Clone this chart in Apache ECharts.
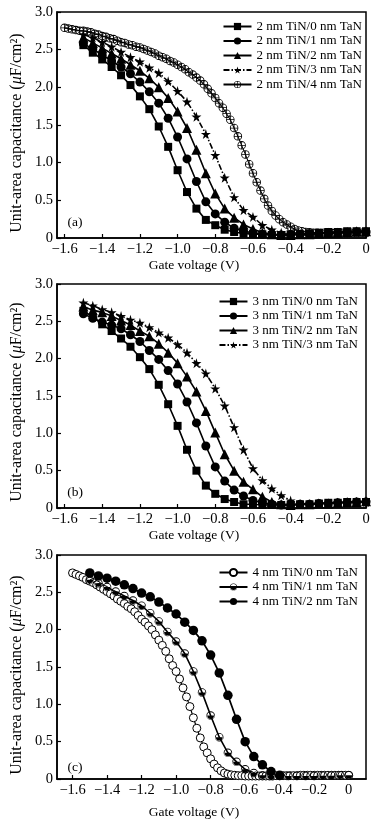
<!DOCTYPE html>
<html>
<head>
<meta charset="utf-8">
<script src="https://cdn.jsdelivr.net/npm/echarts@6/dist/echarts.min.js"></script>
<style>
html,body{margin:0;padding:0;background:#fff;}
#chart{width:392px;height:826px;}
</style>
</head>
<body>
<div id="chart"></div>
<script>
// ---------- DATA ----------
const voltsA = [-1.5,-1.45,-1.4,-1.35,-1.3,-1.25,-1.2,-1.15,-1.1,-1.05,-1.0,-0.95,-0.9,-0.85,-0.8,-0.75,-0.7,-0.65,-0.6,-0.55,-0.5,-0.45,-0.4,-0.35,-0.3,-0.25,-0.2,-0.15,-0.1,-0.05,0];
const voltsFine = [-1.6,-1.58,-1.56,-1.54,-1.52,-1.5,-1.48,-1.46,-1.44,-1.42,-1.4,-1.38,-1.36,-1.34,-1.32,-1.3,-1.28,-1.26,-1.24,-1.22,-1.2,-1.18,-1.16,-1.14,-1.12,-1.1,-1.08,-1.06,-1.04,-1.02,-1.0,-0.98,-0.96,-0.94,-0.92,-0.9,-0.88,-0.86,-0.84,-0.82,-0.8,-0.78,-0.76,-0.74,-0.72,-0.7,-0.68,-0.66,-0.64,-0.62,-0.6,-0.58,-0.56,-0.54,-0.52,-0.5,-0.48,-0.46,-0.44,-0.42,-0.4,-0.38,-0.36,-0.34,-0.32,-0.3,-0.28,-0.26,-0.24,-0.22,-0.2,-0.18,-0.16,-0.14,-0.12,-0.1,-0.08,-0.06,-0.04,-0.02,0];
const voltsC2 = [-1.5,-1.45,-1.4,-1.35,-1.3,-1.25,-1.2,-1.15,-1.1,-1.05,-1.0,-0.95,-0.9,-0.85,-0.8,-0.75,-0.7,-0.65,-0.6,-0.55,-0.5,-0.45,-0.4];
const xTickValues = [-1.6,-1.4,-1.2,-1.0,-0.8,-0.6,-0.4,-0.2,0];

// Panel (a): 2 nm TiN
const namesA = ['2 nm TiN/0 nm TaN','2 nm TiN/1 nm TaN','2 nm TiN/2 nm TaN','2 nm TiN/3 nm TaN','2 nm TiN/4 nm TaN'];
const a0 = [2.56,2.46,2.37,2.27,2.16,2.03,1.88,1.71,1.48,1.21,0.90,0.61,0.39,0.24,0.17,0.11,0.08,0.06,0.05,0.05,0.04,0.04,0.05,0.05,0.06,0.07,0.08,0.08,0.09,0.09,0.09];
const a1 = [2.58,2.51,2.43,2.35,2.27,2.18,2.07,1.94,1.79,1.59,1.34,1.05,0.75,0.48,0.32,0.21,0.13,0.09,0.07,0.05,0.05,0.04,0.04,0.05,0.05,0.06,0.06,0.07,0.07,0.08,0.08];
const a2 = [2.66,2.59,2.52,2.45,2.38,2.30,2.22,2.12,2.00,1.86,1.68,1.46,1.17,0.86,0.59,0.39,0.27,0.18,0.12,0.07,0.05,0.04,0.04,0.05,0.05,0.06,0.07,0.07,0.08,0.09,0.09];
const a3 = [2.70,2.66,2.60,2.54,2.47,2.40,2.34,2.26,2.19,2.08,1.95,1.81,1.61,1.38,1.10,0.80,0.54,0.37,0.28,0.17,0.11,0.07,0.05,0.05,0.05,0.06,0.06,0.07,0.07,0.08,0.08];
const a4 = [2.79,2.78,2.77,2.76,2.75,2.75,2.74,2.73,2.71,2.70,2.68,2.67,2.65,2.64,2.62,2.60,2.59,2.57,2.56,2.54,2.53,2.51,2.49,2.47,2.45,2.42,2.40,2.38,2.35,2.33,2.30,2.27,2.24,2.20,2.17,2.13,2.09,2.04,1.98,1.92,1.86,1.79,1.73,1.65,1.57,1.46,1.35,1.23,1.11,0.98,0.86,0.74,0.63,0.52,0.43,0.36,0.30,0.25,0.21,0.18,0.15,0.12,0.10,0.09,0.08,0.075,0.07,0.07,0.065,0.07,0.07,0.065,0.07,0.07,0.07,0.065,0.07,0.07,0.07,0.07,0.07];

// Panel (b): 3 nm TiN
const namesB = ['3 nm TiN/0 nm TaN','3 nm TiN/1 nm TaN','3 nm TiN/2 nm TaN','3 nm TiN/3 nm TaN'];
const b0 = [2.64,2.56,2.46,2.37,2.27,2.16,2.02,1.86,1.65,1.39,1.10,0.78,0.50,0.30,0.19,0.12,0.08,0.05,0.05,0.04,0.04,0.04,0.04,0.05,0.05,0.06,0.07,0.07,0.08,0.08,0.08];
const b1 = [2.60,2.54,2.49,2.45,2.40,2.32,2.23,2.11,1.99,1.84,1.66,1.42,1.14,0.83,0.55,0.36,0.24,0.16,0.10,0.07,0.05,0.04,0.04,0.05,0.05,0.06,0.06,0.07,0.07,0.08,0.08];
const b2 = [2.70,2.65,2.62,2.57,2.51,2.45,2.37,2.30,2.20,2.08,1.94,1.76,1.56,1.30,1.01,0.72,0.50,0.35,0.25,0.15,0.08,0.05,0.04,0.05,0.05,0.06,0.06,0.07,0.08,0.08,0.09];
const b3 = [2.75,2.71,2.66,2.62,2.57,2.52,2.48,2.42,2.35,2.28,2.19,2.08,1.94,1.80,1.60,1.37,1.08,0.78,0.53,0.37,0.26,0.17,0.10,0.05,0.05,0.06,0.06,0.07,0.07,0.08,0.08];

// Panel (c): 4 nm TiN
const namesC = ['4 nm TiN/0 nm TaN','4 nm TiN/1 nm TaN','4 nm TiN/2 nm TaN'];
const c0 = [2.76,2.74,2.72,2.70,2.67,2.65,2.63,2.60,2.57,2.54,2.51,2.48,2.45,2.41,2.38,2.35,2.31,2.28,2.24,2.19,2.14,2.10,2.05,2.00,1.93,1.86,1.79,1.71,1.61,1.52,1.44,1.34,1.22,1.10,0.97,0.82,0.68,0.55,0.43,0.35,0.27,0.20,0.15,0.11,0.08,0.065,0.055,0.05,0.045,0.045,0.04,0.04,0.04,0.04,0.04,0.04,0.04,0.04,0.04,0.045,0.045,0.045,0.045,0.045,0.045,0.045,0.05,0.05,0.05,0.05,0.05,0.05,0.05,0.05,0.05,0.05,0.05,0.05,0.05,0.05,0.05];
const c1 = [2.67,2.62,2.57,2.51,2.45,2.39,2.32,2.22,2.11,1.97,1.84,1.68,1.44,1.16,0.85,0.56,0.35,0.23,0.13,0.08,0.05,0.04,0.04,0.04,0.04,0.04,0.04,0.045,0.045,0.05,0.05];
const c2 = [2.76,2.72,2.69,2.65,2.60,2.55,2.49,2.44,2.37,2.29,2.21,2.10,1.99,1.85,1.66,1.42,1.12,0.80,0.50,0.30,0.19,0.10,0.05];

// ---------- STYLE ----------
const FONT = '"Liberation Serif", "Times New Roman", serif';
const STAR = 'path://M50,0 L61,35 L98,35 L68,57 L79,91 L50,70 L21,91 L32,57 L2,35 L39,35 Z';
const CIRCLE_PLUS = 'path://M10,0 A10,10 0 1,1 10,20 A10,10 0 1,1 10,0 Z M10,2 A8,8 0 1,0 10,18 A8,8 0 1,0 10,2 Z M9.1,1 L10.9,1 L10.9,19 L9.1,19 Z M1,9.1 L19,9.1 L19,10.9 L1,10.9 Z';
const HALF_CIRCLE = 'path://M10,0 A10,10 0 1,1 10,20 A10,10 0 1,1 10,0 Z M10,2 A8,8 0 1,0 10,18 A8,8 0 1,0 10,2 Z M1,10 A9,9 0 0,0 19,10 Z';

function zip(xs, ys){ return xs.map((x,i)=>[x, ys[i]]); }

function mkSeries(name, idx, xs, ys, symbol, size, opts){
  opts = opts || {};
  return {
    type:'line', name:name, xAxisIndex:idx, yAxisIndex:idx,
    data: zip(xs, ys),
    symbol: symbol, symbolSize: size, showSymbol:true,
    lineStyle:{color:'#000', width: opts.lw || 1.6, type: opts.dash || 'solid'},
    itemStyle: opts.item || {color:'#000'},
    emphasis:{disabled:true},
    animation:false, z: opts.z || 2
  };
}

const grids = [
  {left:57, top:12, width:309, height:226},
  {left:57, top:284, width:309, height:224},
  {left:57, top:555, width:309, height:224}
].map(g => Object.assign({show:true, borderColor:'#000', borderWidth:1.5, containLabel:false, outerBoundsMode:'none'}, g));

const xRanges = [[-1.64,0],[-1.64,0],[-1.69,0.1]];

function xFmt(v){ if (Math.abs(v) < 1e-9) return '0'; return '\u2212' + Math.abs(v).toFixed(1); }
function yFmt(v){ if (Math.abs(v) < 1e-9) return '0'; return v.toFixed(1); }

const xAxes = xRanges.map((r,i)=>({
  type:'value', gridIndex:i, min:r[0], max:r[1],
  axisLine:{show:true, onZero:false, lineStyle:{color:'#000', width:1.5}},
  axisTick:{show:true, inside:true, length:4, customValues:xTickValues, lineStyle:{color:'#000', width:1.2}},
  axisLabel:{show:true, customValues:xTickValues, formatter:xFmt, color:'#000', fontFamily:FONT, fontSize:14.5, margin:4},
  splitLine:{show:false}
}));
const yAxes = [0,1,2].map(i=>({
  type:'value', gridIndex:i, min:0, max:3, interval:0.5,
  axisLine:{show:true, onZero:false, lineStyle:{color:'#000', width:1.5}},
  axisTick:{show:true, inside:true, length:4, lineStyle:{color:'#000', width:1.2}},
  axisLabel:{show:true, formatter:yFmt, color:'#000', fontFamily:FONT, fontSize:14.5, margin:4},
  splitLine:{show:false}
}));

const dashDot = [6,2,1.5,2];
const openItem = {color:'#fff', borderColor:'#000', borderWidth:1};

const series = [
  mkSeries(namesA[0],0,voltsA,a0,'rect',8),
  mkSeries(namesA[1],0,voltsA,a1,'circle',9),
  mkSeries(namesA[2],0,voltsA,a2,'triangle',10),
  mkSeries(namesA[3],0,voltsA,a3,STAR,10,{dash:dashDot}),
  mkSeries(namesA[4],0,voltsFine,a4,CIRCLE_PLUS,8.5,{lw:1.1}),
  mkSeries(namesB[0],1,voltsA,b0,'rect',8),
  mkSeries(namesB[1],1,voltsA,b1,'circle',9),
  mkSeries(namesB[2],1,voltsA,b2,'triangle',10),
  mkSeries(namesB[3],1,voltsA,b3,STAR,10,{dash:dashDot}),
  mkSeries(namesC[0],2,voltsFine,c0,'circle',8,{item:openItem, lw:1.2}),
  mkSeries(namesC[1],2,voltsA,c1,HALF_CIRCLE,8.5),
  mkSeries(namesC[2],2,voltsC2,c2,'circle',9.5,{lw:1.7})
];

function mkLegend(names, top, right){
  return {
    data:names, orient:'vertical', top:top, right:right, left:'auto',
    itemWidth:28, itemHeight:9, itemGap:1.5, selectedMode:false, padding:0,
    textStyle:{fontFamily:FONT, fontSize:13, color:'#000'}
  };
}

function yName(cy){
  return {type:'text', x:17, y:cy, rotation:Math.PI/2,
    style:{text:'Unit-area capacitance ({i|\u03bc}F/cm\u00b2)', fontFamily:FONT, fontSize:16, fill:'#000', align:'center', verticalAlign:'middle',
      rich:{i:{fontStyle:'italic', fontFamily:FONT, fontSize:16, fill:'#000'}}}};
}
function xName(cy){
  return {type:'text', x:194, y:cy, style:{text:'Gate voltage (V)', fontFamily:FONT, fontSize:13.5, fill:'#000', align:'center', verticalAlign:'middle'}};
}
function panelLabel(t, cy){
  return {type:'text', x:75, y:cy, style:{text:t, fontFamily:FONT, fontSize:13.5, fill:'#000', align:'center', verticalAlign:'middle'}};
}

const option = {
  backgroundColor:'#fff',
  animation:false,
  grid:grids,
  xAxis:xAxes,
  yAxis:yAxes,
  legend:[mkLegend(namesA,20,30), mkLegend(namesB,295,34), mkLegend(namesC,566,34)],
  series:series,
  graphic:[
    yName(133), yName(402), yName(675),
    xName(265), xName(535), xName(812),
    panelLabel('(a)',222), panelLabel('(b)',492), panelLabel('(c)',767)
  ]
};

const chart = echarts.init(document.getElementById('chart'), null, {renderer:'canvas'});
chart.setOption(option);
</script>
</body>
</html>
